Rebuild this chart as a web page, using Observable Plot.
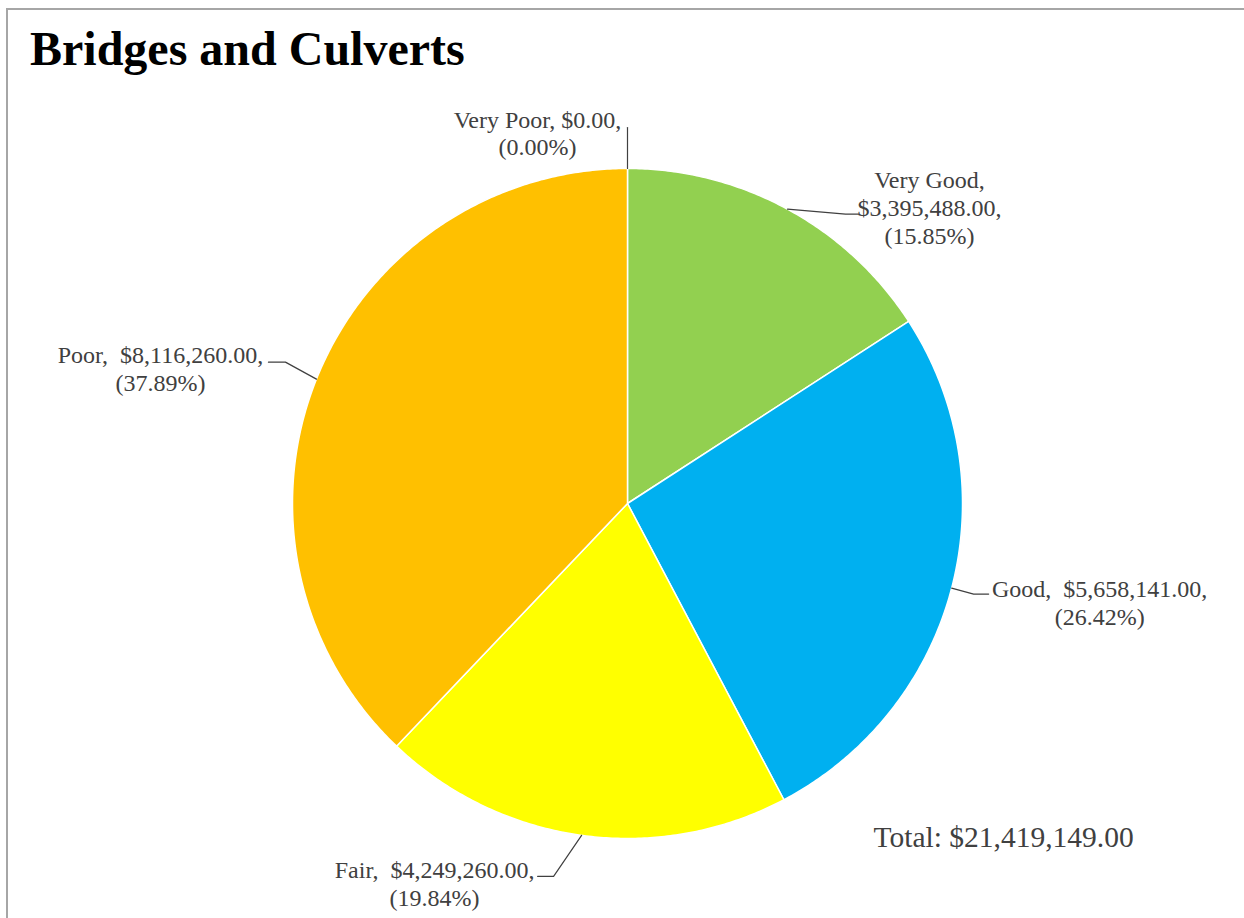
<!DOCTYPE html>
<html>
<head>
<meta charset="utf-8">
<script src="https://cdn.jsdelivr.net/npm/d3@7"></script>
<script src="https://cdn.jsdelivr.net/npm/@observablehq/plot@0.6"></script>
<style>
  body { margin: 0; background: #fff; }
  #wrap { position: relative; width: 1244px; height: 918px; overflow: hidden; }
  #frame { position: absolute; left: 6px; top: 8px; width: 1260px; height: 930px;
           border-left: 2px solid #a6a6a6; border-top: 2px solid #a6a6a6; }
  #title { position: absolute; left: 30px; top: 25px; font: bold 48px "Liberation Serif", serif;
           line-height: 48px; color: #000; white-space: nowrap; }
  #chart { position: absolute; left: 0; top: 0; }
</style>
</head>
<body>
<div id="wrap">
  <div id="frame"></div>
  <div id="chart"></div>
  <div id="title">Bridges and Culverts</div>
</div>
<script>
// ---- data ----
const conditions = ["Very Good", "Good", "Fair", "Poor", "Very Poor"];
const costs = [3395488, 5658141, 4249260, 8116260, 0];
const colors = ["#92D050", "#00B0F0", "#FFFF00", "#FFC000", "#C00000"];

// ---- layout (pixels) ----
const W = 1244, H = 918, CX = 627, CY = 503, R = 335;
// label block centre offsets and leader elbow offsets, relative to slice mid-arc point (px, y down)
const labelLayout = {
  "Very Good": {dx: 142, dy: -2, leader: [[58, 5], [71, 5]]},
  "Good":      {dx: 148, dy: 14, leader: [[22, 6], [37, 6]]},
  "Fair":      {dx: -147, dy: 48, leader: [[-28, 41], [-44, 41]]},
  "Poor":      {dx: -156, dy: -11, leader: [[-31, -17], [-48, -17]]},
  "Very Poor": {dx: -90, dy: -36, leader: [[0, -41]]}
};

const total = d3.sum(costs);
const money = d3.format("$,.2f");
const pct = d3.format(".2%");

const data = conditions.map((c, i) => ({cond: c, value: costs[i]}));
const arcs = d3.pie().sort(null).value(d => d.value)(data);

// slice polygons in unit-radius coordinates (y up)
const pt = (a, r = 1) => ({x: r * Math.sin(a), y: r * Math.cos(a)});
const polys = [];
arcs.filter(a => a.data.value > 0).forEach(a => {
  const n = Math.max(2, Math.ceil((a.endAngle - a.startAngle) / (Math.PI / 360)));
  polys.push({cond: a.data.cond, x: 0, y: 0});
  for (let k = 0; k <= n; k++) {
    const ang = a.startAngle + (a.endAngle - a.startAngle) * k / n;
    polys.push({cond: a.data.cond, ...pt(ang)});
  }
  polys.push({cond: a.data.cond, x: 0, y: 0});
});

// leaders and labels
const leaders = [];
const labels = [];
arcs.forEach(a => {
  const c = a.data.cond;
  const mid = (a.startAngle + a.endAngle) / 2;
  const p = pt(mid);
  const L = labelLayout[c];
  leaders.push({cond: c, x: p.x, y: p.y});
  L.leader.forEach(([dx, dy]) => leaders.push({cond: c, x: p.x + dx / R, y: p.y - dy / R}));
  const sp = c === "Very Poor" ? ", " : ",\u00a0 ";
  const head = c === "Very Good" ? `${c},\n${money(a.data.value)},` : `${c}${sp}${money(a.data.value)},`;
  labels.push({cond: c, x: p.x + L.dx / R, y: p.y - L.dy / R,
               text: `${head}\n(${pct(a.data.value / total)})`});
});

const chart = Plot.plot({
  width: W, height: H,
  margin: 0,
  x: {domain: [-CX / R, (W - CX) / R], axis: null},
  y: {domain: [-(H - CY) / R, CY / R], axis: null},
  color: {domain: conditions, range: colors},
  style: {background: "transparent", overflow: "visible"},
  marks: [
    Plot.line(polys, {x: "x", y: "y", z: "cond", fill: "cond", stroke: "white", strokeWidth: 1.5, curve: "linear"}),
    Plot.line(leaders, {x: "x", y: "y", z: "cond", stroke: "#404040", strokeWidth: 1.2, curve: "linear"}),
    Plot.text(labels, {x: "x", y: "y", text: "text", textAnchor: "middle", lineHeight: 1.15,
                       fontSize: 24, fontFamily: "Liberation Serif", fill: "#404040"}),
    Plot.text([`Total: ${money(total)}`], {frameAnchor: "top-left", dx: 873, dy: 826, text: d => d,
                       textAnchor: "start", fontSize: 29.5, fontFamily: "Liberation Serif", fill: "#404040"})
  ]
});
document.getElementById("chart").appendChild(chart);
</script>
</body>
</html>
